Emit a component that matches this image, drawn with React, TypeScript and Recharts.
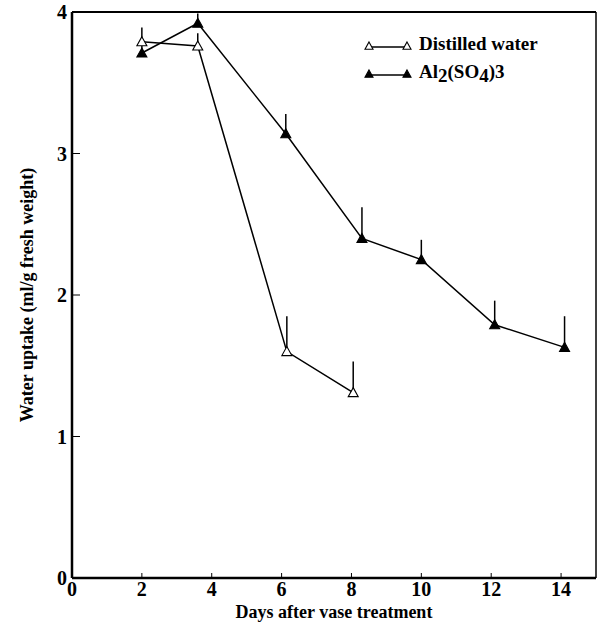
import React from 'react';
import { ComposedChart, Line, XAxis, YAxis, ErrorBar, ReferenceLine, Label } from 'recharts';

const distilledDays = [2, 3.6, 6.15, 8.05];
const distilledUptake = [3.79, 3.76, 1.6, 1.31];
const distilledErr = [0.1, 0.09, 0.25, 0.22];

const alumDays = [2, 3.6, 6.12, 8.3, 10, 12.1, 14.1];
const alumUptake = [3.71, 3.92, 3.14, 2.4, 2.25, 1.79, 1.63];
const alumErr = [0.05, 0.07, 0.14, 0.22, 0.14, 0.17, 0.22];

const xTicks = [0, 2, 4, 6, 8, 10, 12, 14];
const yTicks = [0, 1, 2, 3, 4];

const distilled = distilledDays.map((d, i) => ({ day: d, uptake: distilledUptake[i], err: [0, distilledErr[i]] }));
const alum = alumDays.map((d, i) => ({ day: d, uptake: alumUptake[i], err: [0, alumErr[i]] }));

const FONT = '"Liberation Serif", "Times New Roman", serif';

function triangle(cx: number, cy: number, filled: boolean, key?: string | number, s = 5) {
  return (
    <path
      key={key}
      d={`M${cx},${cy - s} L${cx + s},${cy + s * 0.8} L${cx - s},${cy + s * 0.8} Z`}
      fill={filled ? '#000' : '#fff'}
      stroke="#000"
      strokeWidth={1.1}
    />
  );
}

function OpenDot(props: any) {
  return triangle(props.cx, props.cy, false, props.index);
}

function FilledDot(props: any) {
  return triangle(props.cx, props.cy, true, props.index);
}

function LegendBox() {
  const row = (filled: boolean, label: React.ReactNode, top: number) => (
    <div style={{ position: 'absolute', left: 0, top, display: 'flex', alignItems: 'center' }}>
      <svg width={52} height={16}>
        <line x1={7} y1={11} x2={45} y2={11} stroke="#000" strokeWidth={1.5} />
        {triangle(7, 10, filled, 'a', 4)}
        {triangle(45, 10, filled, 'b', 4)}
      </svg>
      <span style={{ fontFamily: FONT, fontWeight: 'bold', fontSize: 19, marginLeft: 5 }}>{label}</span>
    </div>
  );
  return (
    <div style={{ position: 'absolute', left: 362, top: 33, width: 220, height: 60 }}>
      {row(false, 'Distilled water', 0)}
      {row(true, <>Al<span style={{ position: 'relative', top: 4 }}>2</span>(SO<span style={{ position: 'relative', top: 4 }}>4</span>)3</>, 28)}
    </div>
  );
}

export default function App() {
  return (
    <div style={{ position: 'absolute', left: 0, top: 0, width: 597, height: 628, background: '#fff' }}>
      <ComposedChart width={597} height={628} margin={{ top: 12, right: 1, bottom: 0, left: 0 }}>
        <XAxis
          type="number"
          dataKey="day"
          domain={[0, 15]}
          ticks={xTicks}
          allowDataOverflow
          height={50}
          axisLine={{ stroke: '#000', strokeWidth: 2.5 }}
          tickLine={{ stroke: '#000' }}
          tickSize={-5}
          tickMargin={9}
          tick={{ fill: '#000', fontFamily: FONT, fontWeight: 'bold', fontSize: 20 }}
        >
          <Label value="Days after vase treatment" position="insideBottom" offset={10} style={{ fill: '#000', fontFamily: FONT, fontWeight: 'bold', fontSize: 18 }} />
        </XAxis>
        <YAxis
          type="number"
          domain={[0, 4]}
          ticks={yTicks}
          width={72}
          axisLine={{ stroke: '#000', strokeWidth: 2.5 }}
          tickLine={{ stroke: '#000' }}
          tickSize={-8}
          tickMargin={13}
          tick={{ fill: '#000', fontFamily: FONT, fontWeight: 'bold', fontSize: 20 }}
        >
          <Label value="Water uptake (ml/g fresh weight)" angle={-90} position="insideLeft" offset={27} style={{ textAnchor: 'middle', fill: '#000', fontFamily: FONT, fontWeight: 'bold', fontSize: 18 }} />
        </YAxis>
        <ReferenceLine y={4} stroke="#000" strokeWidth={2} />
        <ReferenceLine x={15} stroke="#000" strokeWidth={1.5} />
        <Line
          data={distilled}
          dataKey="uptake"
          stroke="#000"
          strokeWidth={1.5}
          dot={OpenDot}
          activeDot={false}
          isAnimationActive={false}
        >
          <ErrorBar dataKey="err" direction="y" width={0} stroke="#000" strokeWidth={1.5} />
        </Line>
        <Line
          data={alum}
          dataKey="uptake"
          stroke="#000"
          strokeWidth={1.5}
          dot={FilledDot}
          activeDot={false}
          isAnimationActive={false}
        >
          <ErrorBar dataKey="err" direction="y" width={0} stroke="#000" strokeWidth={1.5} />
        </Line>
      </ComposedChart>
      <LegendBox />
    </div>
  );
}
